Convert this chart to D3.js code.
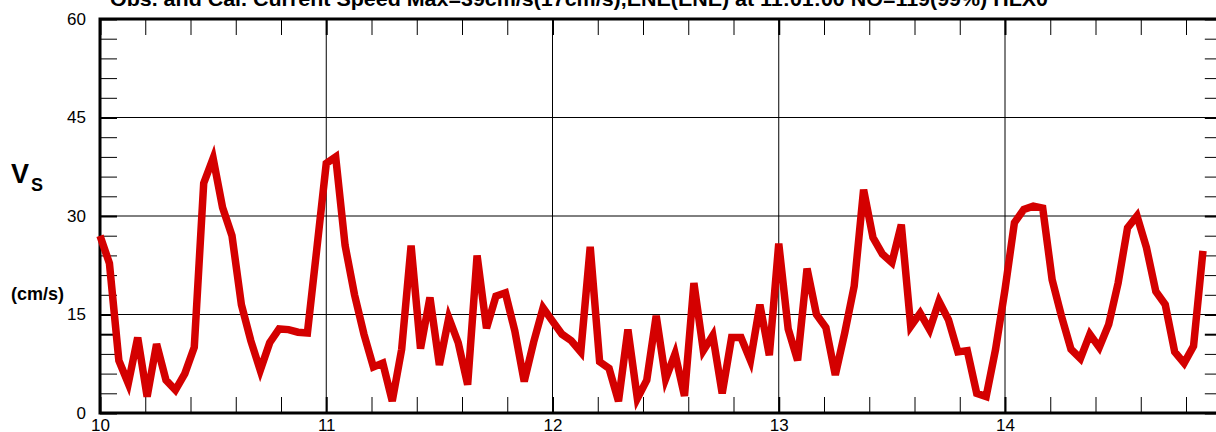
<!DOCTYPE html>
<html>
<head>
<meta charset="utf-8">
<script src="https://cdn.jsdelivr.net/npm/d3@7"></script>
<style>
  body { margin: 0; background: #fff; }
  svg { display: block; font-family: "Liberation Sans", Arial, sans-serif; }
</style>
</head>
<body>
<svg id="chart" width="1216" height="432"></svg>
<script>
// hourly speed (cm/s) starting at day 10
const startDay = 10;
const speed = [
  27, 22.8, 8, 4.5, 11.5, 2.5, 10.5, 5, 3.5, 6,
  10, 35, 38.8, 31.3, 27, 16.5, 11, 6.5, 10.7, 12.8,
  12.7, 12.3, 12.2, 25, 38, 39, 25.5, 18, 12, 7,
  7.6, 1.8, 9.7, 25.5, 9.8, 17.6, 7.3, 14.5, 10.7, 4.3,
  24, 12.9, 17.8, 18.3, 12.5, 4.8, 10.8, 16, 14, 12,
  11, 9.3, 25.3, 7.8, 6.8, 1.8, 12.7, 2.2, 5, 14.8,
  5.2, 9, 2.6, 19.8, 9.5, 11.8, 3, 11.5, 11.5, 8,
  16.5, 8.8, 25.8, 12.8, 8, 22, 15, 13, 5.8, 12.2,
  19.3, 34, 26.7, 24.2, 22.9, 28.7, 13.2, 15.2, 12.7, 17,
  14.2, 9.3, 9.5, 3, 2.5, 9.7, 18.8, 29, 31, 31.5,
  31.2, 20.3, 14.7, 9.7, 8.3, 12, 10, 13.5, 19.8, 28.2,
  30, 25.2, 18.5, 16.5, 9.3, 7.6, 10.2, 24.7
];
const yTicks = d3.range(0, 61, 3);          // 0..60 every 3
const yLabels = [0, 15, 30, 45, 60];
const xTicks = d3.range(0, 25).map(i => +(10 + i * 0.2).toFixed(1));
const xLabels = [10, 11, 12, 13, 14];
const titleText = "Obs. and Cal. Current Speed Max=39cm/s(17cm/s),ENE(ENE) at 11:01:00 NO=119(99%) HLX0";

const data = speed.map((v, i) => ({ t: startDay + i / 24, v: v }));

const svg = d3.select("#chart");
const margin = { left: 100, top: 19 };
const dayPx = 226.25;
const x = d3.scaleLinear().domain([10, 10 + 119 / 24]).range([margin.left, margin.left + dayPx * 119 / 24]);
const y = d3.scaleLinear().domain([0, 60]).range([413, margin.top]);
const [x0, x1] = x.range();
const [y0, y1] = y.range();

// grid
svg.append("g").selectAll("line").data(xLabels.slice(1)).join("line")
  .attr("x1", d => x(d)).attr("x2", d => x(d))
  .attr("y1", y0).attr("y2", y1)
  .attr("stroke", "#000").attr("stroke-width", 1);
svg.append("g").selectAll("line").data([15, 30, 45]).join("line")
  .attr("x1", x0).attr("x2", x1)
  .attr("y1", d => y(d)).attr("y2", d => y(d))
  .attr("stroke", "#000").attr("stroke-width", 1);

function styleAxis(g) {
  g.select(".domain").remove();
  g.selectAll(".tick line").attr("stroke", "#000")
    .attr("stroke-width", d => (yLabels.includes(d) || xLabels.includes(d)) ? 2 : 1);
  g.selectAll(".tick text").attr("fill", "#000").style("font-size", "17px");
}

// left axis
svg.append("g").attr("transform", `translate(${x0},0)`)
  .call(d3.axisLeft(y).tickValues(yTicks).tickSize(-17).tickPadding(14)
    .tickFormat(d => yLabels.includes(d) ? d : ""))
  .call(styleAxis);
// right axis
svg.append("g").attr("transform", `translate(${x1},0)`)
  .call(d3.axisRight(y).tickValues(yTicks).tickSize(-17).tickFormat(""))
  .call(styleAxis);
// bottom axis
svg.append("g").attr("transform", `translate(0,${y0})`)
  .call(d3.axisBottom(x).tickValues(xTicks).tickSize(-16).tickPadding(6)
    .tickFormat(d => xLabels.includes(d) ? d : ""))
  .call(styleAxis);
// top axis
svg.append("g").attr("transform", `translate(0,${y1})`)
  .call(d3.axisTop(x).tickValues(xTicks).tickSize(-16).tickFormat(""))
  .call(styleAxis);

// frame
svg.append("path")
  .attr("d", `M${x1},${y1}H${x0}V${y0}H${x1}`)
  .attr("fill", "none").attr("stroke", "#000").attr("stroke-width", 3);
svg.append("line")
  .attr("x1", x1).attr("x2", x1).attr("y1", y1).attr("y2", y0)
  .attr("stroke", "#000").attr("stroke-width", 3);

// series
const line = d3.line().x(d => x(d.t)).y(d => y(d.v));
svg.append("path").datum(data)
  .attr("d", line)
  .attr("fill", "none")
  .attr("stroke", "#d40000")
  .attr("stroke-width", 7.5)
  .attr("stroke-linejoin", "miter");

// title
svg.append("text")
  .attr("x", 110).attr("y", 6)
  .attr("textLength", 938).attr("lengthAdjust", "spacingAndGlyphs")
  .style("font-size", "20px").style("font-weight", "bold")
  .text(titleText);

// y axis label
const vs = svg.append("text").attr("x", 11).attr("y", 183)
  .style("font-weight", "bold");
vs.append("tspan").style("font-size", "27px").text("V");
vs.append("tspan").attr("dy", 8).attr("dx", 2).style("font-size", "18px").text("S");

svg.append("text").attr("x", 11).attr("y", 300)
  .style("font-weight", "bold").style("font-size", "18px")
  .text("(cm/s)");
</script>
</body>
</html>
